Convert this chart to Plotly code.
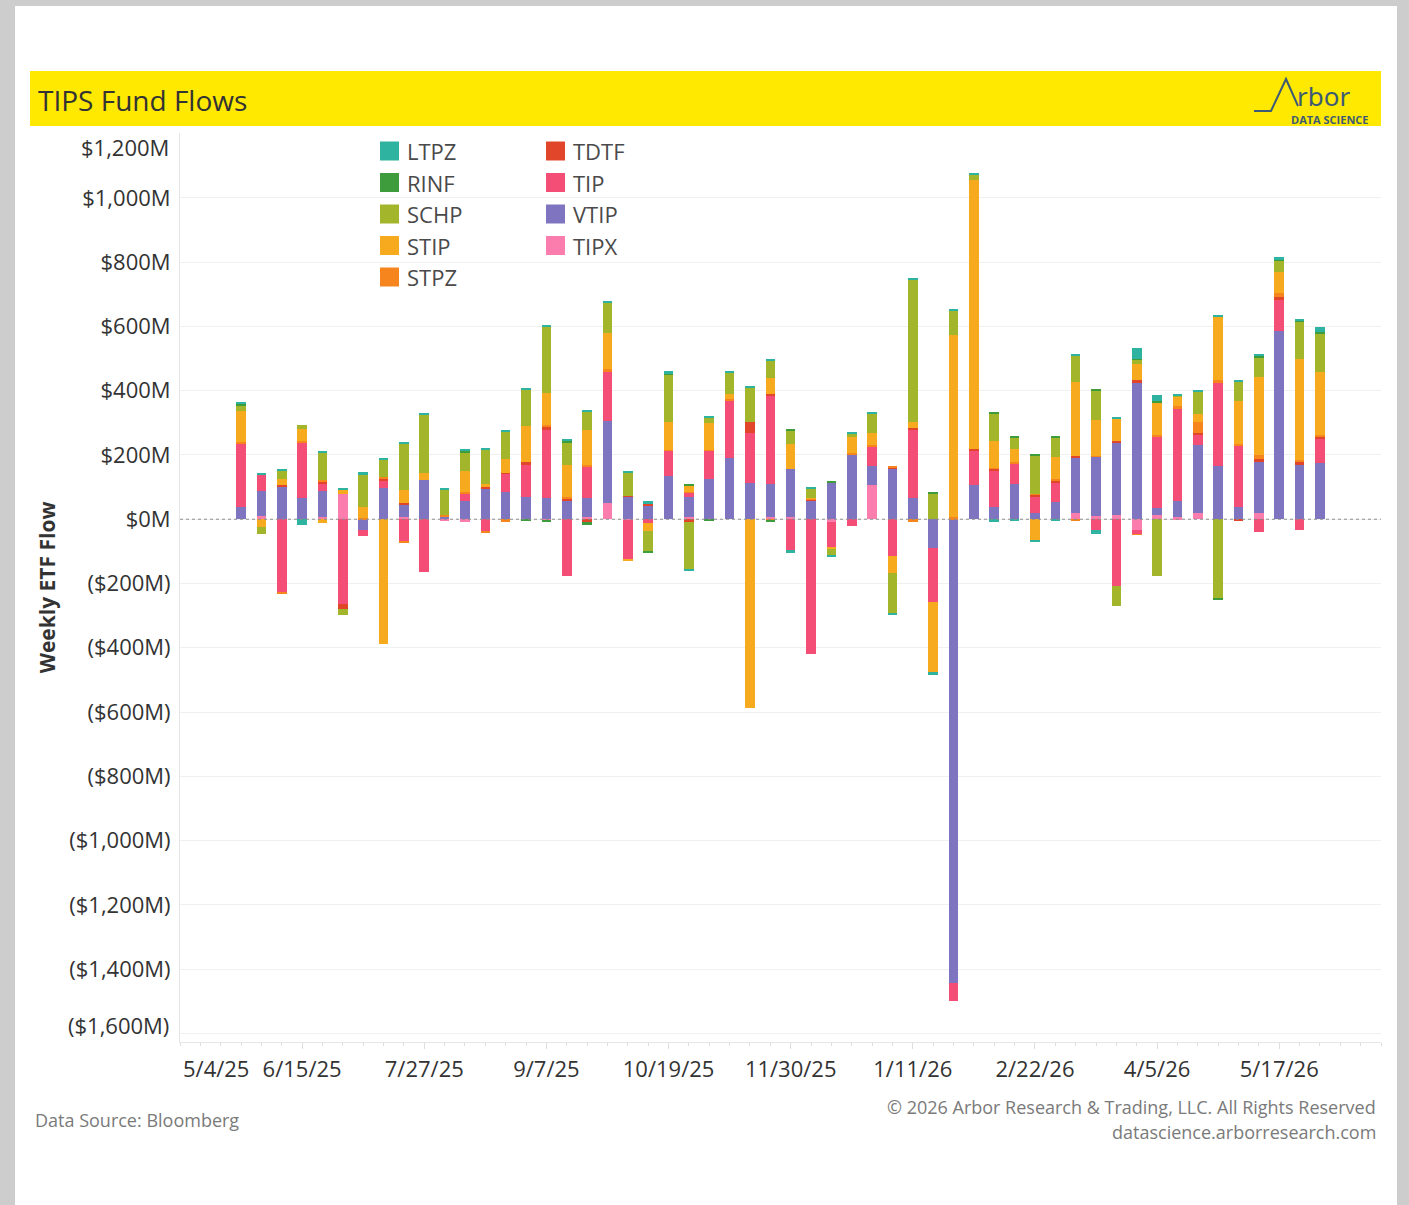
import plotly.graph_objects as go

# ---------------- data ----------------
weeks = [
    "2025-05-25", "2025-06-01", "2025-06-08", "2025-06-15", "2025-06-22", "2025-06-29",
    "2025-07-06", "2025-07-13", "2025-07-20", "2025-07-27", "2025-08-03", "2025-08-10",
    "2025-08-17", "2025-08-24", "2025-08-31", "2025-09-07", "2025-09-14", "2025-09-21",
    "2025-09-28", "2025-10-05", "2025-10-12", "2025-10-19", "2025-10-26", "2025-11-02",
    "2025-11-09", "2025-11-16", "2025-11-23", "2025-11-30", "2025-12-07", "2025-12-14",
    "2025-12-21", "2025-12-28", "2026-01-04", "2026-01-11", "2026-01-18", "2026-01-25",
    "2026-02-01", "2026-02-08", "2026-02-15", "2026-02-22", "2026-03-01", "2026-03-08",
    "2026-03-15", "2026-03-22", "2026-03-29", "2026-04-05", "2026-04-12", "2026-04-19",
    "2026-04-26", "2026-05-03", "2026-05-10", "2026-05-17", "2026-05-24", "2026-05-31",
]

LTPZ = [3, 5, 4, -18, 4, 5, 6, 4, 4, 4,
        3, 3, 3, 3, 3, 3, 4, 3, 4, 4,
        9, 9, -7, 4, 5, 5, 4, -8, 6, -3,
        4, 5, -5, 5, -12, 5, 5, -8, -6, -4,
        -6, 4, -12, 3, 32, 18, 4, 5, 4, 5,
        4, 10, 3, 15]
RINF = [6, 0, 0, 0, 0, 0, 0, 0, 0, 0,
        0, 5, 0, 0, -5, -3, 7, -8, 0, 0,
        -3, 4, 4, -4, 0, 0, -4, 4, 0, 4,
        0, 0, 0, 0, 3, 0, 0, 3, 4, 3,
        4, 0, 4, 0, 4, 5, 0, 0, -4, 0,
        4, 3, 5, 5]
SCHP = [18, -21, 29, 13, 86, -19, 102, 57, 145, 181,
        81, 57, 107, 88, 116, 207, 70, 56, 95, 72,
        -66, 147, -147, 18, 67, 105, 52, 44, 28, -19,
        11, 62, -125, 444, 81, 76, 17, 84, 34, 121,
        60, 82, 91, -62, 12, -178, 3, 68, -248, 62,
        60, 34, 114, 121]
STIP = [97, -24, 18, 39, -13, 16, 35, -388, 41, 21,
        0, 66, 8, 41, 111, 99, 98, 110, 114, -7,
        -24, 85, 20, 82, 17, -587, 51, 77, 2, -5,
        51, 37, -54, 19, -216, 567, 837, 84, 42, -66,
        70, 231, 112, 70, 52, 103, 30, 26, 197, 132,
        245, 67, 316, 196]
STPZ = [3, 0, -9, 3, 5, 0, 3, 4, -3, 0,
        2, 4, -3, -9, 0, 6, 6, 4, 5, 0,
        0, 4, 2, 3, 4, 0, -5, 0, 5, 0,
        5, 4, 3, -8, 0, 6, 0, 2, 4, 2,
        5, -7, 4, 0, -3, 5, 5, 33, 8, 6,
        13, 12, 7, 4]
TDTF = [0, 0, 3, 0, 7, -13, 0, 8, 5, 0,
        2, 0, 5, 4, 9, 10, 6, -10, 0, 2,
        4, 0, -8, 0, 0, 35, 4, 0, 3, 0,
        0, 0, 3, 5, 0, 0, 5, 8, 0, 5,
        7, 5, 0, 5, 5, 0, 0, 5, 0, -7,
        8, 6, 6, 5]
TIP = [200, 50, -225, 172, 23, -265, -21, 21, -68, -165,
       0, 23, -38, 57, 99, 211, -178, 100, 155, -121,
       -12, 78, 13, 88, 177, 156, 276, -97, -419, -78,
       -20, 59, -113, 213, -169, -56, 110, 113, 65, 52,
       58, 0, -33, -209, -13, 220, 288, 34, 259, 190,
       -41, 99, -33, 78]
VTIP = [37, 78, 103, 67, 82, 0, -32, 97, 38, 123,
        8, 58, 96, 84, 70, 66, 58, 59, 257, 70,
        44, 135, 63, 125, 192, 113, 104, 150, 57, 114,
        200, 62, 159, 66, -89, -1443, 105, 37, 109, 19,
        54, 173, 184, 227, 427, 23, 52, 211, 166, 39,
        159, 586, 171, 174]
TIPX = [0, 10, 0, 0, 6, 77, 0, 0, 7, 0,
        -3, -10, 0, 0, 0, -4, 0, 6, 49, -3,
        0, 0, 6, 0, 0, 0, 6, 6, 0, -10,
        0, 105, 0, 0, 0, 0, 0, 0, 0, 0,
        0, 19, 10, 13, -33, 13, 6, 19, 0, 0,
        19, 0, 0, 0]

series = {"LTPZ": LTPZ, "RINF": RINF, "SCHP": SCHP, "STIP": STIP, "STPZ": STPZ,
          "TDTF": TDTF, "TIP": TIP, "VTIP": VTIP, "TIPX": TIPX}
colors = {"LTPZ": "#2DB39F", "RINF": "#3F9C3D", "SCHP": "#A3B52A", "STIP": "#F8AA1F",
          "STPZ": "#F5851C", "TDTF": "#E2462A", "TIP": "#F44E76", "VTIP": "#7F74C0",
          "TIPX": "#FB7DAE"}
stack_order = ["TIPX", "VTIP", "TIP", "TDTF", "STPZ", "STIP", "SCHP", "RINF", "LTPZ"]
legend_col1 = ["LTPZ", "RINF", "SCHP", "STIP", "STPZ"]
legend_col2 = ["TDTF", "TIP", "VTIP", "TIPX"]

x_tickvals = ["2025-05-04", "2025-06-15", "2025-07-27", "2025-09-07", "2025-10-19",
              "2025-11-30", "2026-01-11", "2026-02-22", "2026-04-05", "2026-05-17"]
x_ticktext = ["5/4/25", "6/15/25", "7/27/25", "9/7/25", "10/19/25",
              "11/30/25", "1/11/26", "2/22/26", "4/5/26", "5/17/26"]
y_tickvals = [-1600, -1400, -1200, -1000, -800, -600, -400, -200, 0, 200, 400, 600, 800, 1000, 1200]
y_ticktext = ["($1,600M)", "($1,400M)", "($1,200M)", "($1,000M)", "($800M)", "($600M)",
              "($400M)", "($200M)", "$0M", "$200M", "$400M", "$600M", "$800M", "$1,000M", "$1,200M"]

# ---------------- layout geometry ----------------
W, H = 1409, 1205
L, R, T, B = 180, 28, 133, 163
PW, PH = W - L - R, H - T - B


def px(x):
    return (x - L) / PW


def py(y):
    return (H - B - y) / PH


FONT = "Open Sans"
TXT = "#333333"
fig = go.Figure()

DAY_MS = 86400000
for name in stack_order:
    fig.add_trace(go.Bar(
        x=weeks, y=series[name], name=name,
        marker=dict(color=colors[name], line=dict(width=0)),
        width=3.3 * DAY_MS,
        showlegend=False,
    ))

shapes = []
annotations = []

# gray page edges
for x0, y0, x1, y1 in [(0, 0, 15, H), (0, 0, W, 6), (1397, 0, W, H)]:
    shapes.append(dict(type="rect", xref="paper", yref="paper",
                       x0=px(x0), x1=px(x1), y0=py(y1), y1=py(y0),
                       fillcolor="#CDCDCD", line=dict(width=0), layer="below"))

# yellow title bar
shapes.append(dict(type="rect", xref="paper", yref="paper",
                   x0=px(30), x1=px(1381), y0=py(126), y1=py(71),
                   fillcolor="#FFE900", line=dict(width=0), layer="below"))
annotations.append(dict(text="TIPS Fund Flows", xref="paper", yref="paper",
                        x=px(36), y=py(100), xanchor="left", yanchor="middle",
                        showarrow=False, font=dict(family=FONT, size=28, color=TXT)))

# logo
LOGO = "#3E5B74"
shapes.append(dict(type="path", xref="paper", yref="paper",
                   path="M {} {} L {} {} L {} {} L {} {}".format(
                       px(1254), py(111), px(1271), py(111), px(1286), py(79), px(1298), py(106)),
                   line=dict(color=LOGO, width=2)))
annotations.append(dict(text="rbor", xref="paper", yref="paper",
                        x=px(1295), y=py(96), xanchor="left", yanchor="middle",
                        height=24, valign="middle",
                        showarrow=False, font=dict(family="Noto Sans", size=26, color=LOGO)))
annotations.append(dict(text="DATA SCIENCE", xref="paper", yref="paper",
                        x=px(1371), y=py(119.5), xanchor="right", yanchor="middle",
                        height=12, valign="middle",
                        showarrow=False, font=dict(family=FONT, size=11, color=LOGO, weight="bold")))

# manual legend (two columns)
row_y = [151, 182.5, 214, 245.5, 277]
for col, (sq_x, tx_x) in zip([legend_col1, legend_col2], [(380, 407), (546, 573)]):
    for i, name in enumerate(col):
        yc = row_y[i]
        shapes.append(dict(type="rect", xref="paper", yref="paper",
                           x0=px(sq_x), x1=px(sq_x + 19), y0=py(yc + 9.5), y1=py(yc - 9.5),
                           fillcolor=colors[name], line=dict(width=0)))
        annotations.append(dict(text=name, xref="paper", yref="paper",
                                x=px(tx_x - 2), y=py(yc), xanchor="left", yanchor="middle",
                                showarrow=False, font=dict(family=FONT, size=22, color="#4A4A4A")))

# dotted zero line
shapes.append(dict(type="line", xref="paper", yref="y", x0=0, x1=1, y0=0, y1=0,
                   line=dict(color="#8C8C8C", width=1, dash="dot"), layer="above"))

# first date label sits inside the axis start
annotations.append(dict(text=x_ticktext[0], xref="x", yref="paper",
                        x=x_tickvals[0], y=py(1068), xanchor="left", yanchor="middle",
                        xshift=1, showarrow=False,
                        font=dict(family=FONT, size=22, color=TXT)))

# edge y labels are nudged inside the plot height (as in the original)
axis_ticktext = list(y_ticktext)
for idx, shift in [(0, 8), (len(y_tickvals) - 1, -13)]:
    axis_ticktext[idx] = ""
    annotations.append(dict(text=y_ticktext[idx], xref="paper", yref="y",
                            x=0, y=y_tickvals[idx], xanchor="right", yanchor="middle",
                            xshift=-9, yshift=shift, showarrow=False,
                            font=dict(family=FONT, size=22, color=TXT)))

# footer
FOOT = dict(family=FONT, size=18, color="#7A7A7A")
annotations.append(dict(text="Data Source: Bloomberg", xref="paper", yref="paper",
                        x=px(33), y=py(1120), xanchor="left", yanchor="middle",
                        showarrow=False, font=FOOT))
annotations.append(dict(text="© 2026 Arbor Research &amp; Trading, LLC. All Rights Reserved",
                        xref="paper", yref="paper",
                        x=px(1378), y=py(1107), xanchor="right", yanchor="middle",
                        showarrow=False, font=FOOT))
annotations.append(dict(text="datascience.arborresearch.com", xref="paper", yref="paper",
                        x=px(1378), y=py(1132), xanchor="right", yanchor="middle",
                        showarrow=False, font=FOOT))

fig.update_layout(
    width=W, height=H,
    margin=dict(l=L, r=R, t=T, b=B, pad=0),
    paper_bgcolor="white", plot_bgcolor="white",
    barmode="relative", bargap=0,
    showlegend=False,
    font=dict(family=FONT, color=TXT),
    shapes=shapes, annotations=annotations,
    xaxis=dict(
        type="date", range=["2025-05-04", "2026-06-21"],
        tickmode="array", tickvals=x_tickvals[1:], ticktext=x_ticktext[1:],
        tickfont=dict(family=FONT, size=22, color=TXT),
        ticks="outside", ticklen=6, tickcolor="#DDDDDD", tickwidth=1,
        minor=dict(ticks="outside", ticklen=3, tickcolor="#DDDDDD",
                   dtick=7 * DAY_MS, tick0="2025-05-04", showgrid=False),
        showgrid=False, showline=True, linecolor="#E6E6E6", linewidth=1,
        zeroline=False, ticklabelstandoff=2,
    ),
    yaxis=dict(
        range=[-1627, 1202],
        tickmode="array", tickvals=y_tickvals, ticktext=axis_ticktext,
        tickfont=dict(family=FONT, size=22, color=TXT),
        ticks="", showgrid=True, gridcolor="#F0F0F0", gridwidth=1,
        showline=True, linecolor="#E6E6E6", linewidth=1,
        zeroline=False, ticklabelstandoff=4,
        title=dict(text="Weekly ETF Flow", standoff=7,
                   font=dict(family=FONT, size=21, color=TXT, weight="bold")),
    ),
)

fig.write_html("out.html", config={"displayModeBar": False},
               post_script="document.body.style.margin='0';document.body.style.overflow='hidden';")
